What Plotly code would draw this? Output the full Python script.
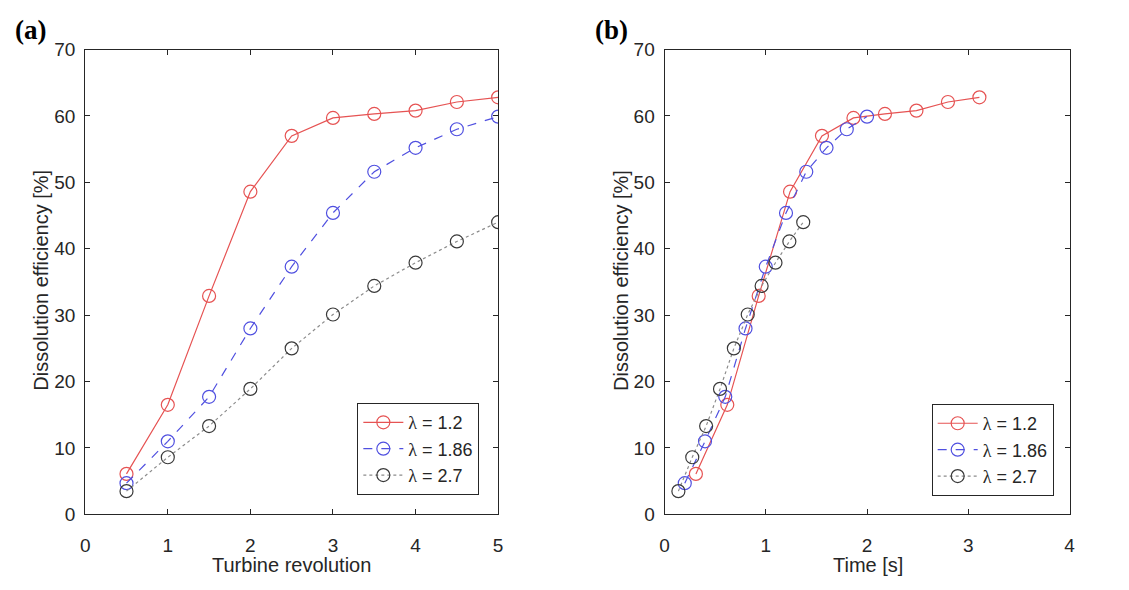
import plotly.graph_objects as go

revolutions = [0.5, 1.0, 1.5, 2.0, 2.5, 3.0, 3.5, 4.0, 4.5, 5.0]
eff_12 = [6.1, 16.5, 32.9, 48.6, 57.0, 59.7, 60.3, 60.8, 62.1, 62.8]
eff_186 = [4.7, 11.0, 17.7, 28.0, 37.3, 45.4, 51.6, 55.2, 58.0, 59.9]
eff_27 = [3.5, 8.6, 13.3, 18.9, 25.0, 30.1, 34.4, 37.9, 41.1, 44.0]

time_12 = [0.31, 0.62, 0.93, 1.24, 1.555, 1.866, 2.177, 2.488, 2.799, 3.11]
time_186 = [0.2, 0.4, 0.6, 0.8, 1.0, 1.2, 1.4, 1.6, 1.8, 2.0]
time_27 = [0.137, 0.274, 0.411, 0.548, 0.685, 0.822, 0.959, 1.096, 1.233, 1.37]

labels = ["<span style='font-family:Liberation Serif'>λ</span> = 1.2",
          "<span style='font-family:Liberation Serif'>λ</span> = 1.86",
          "<span style='font-family:Liberation Serif'>λ</span> = 2.7"]
line_colors = ["#e65353", "#5050e0", "#8c8c8c"]
marker_colors = ["#e65353", "#5050e0", "#3a3a3a"]
dashes = ["solid", "dash", "dot"]

W, H = 1129, 590
fig = go.Figure()

series_a = [eff_12, eff_186, eff_27]
series_b_x = [time_12, time_186, time_27]

for i in range(3):
    fig.add_trace(go.Scatter(
        x=revolutions, y=series_a[i], mode="lines+markers", name=labels[i],
        line=dict(color=line_colors[i], width=1.2, dash=dashes[i]),
        marker=dict(symbol="circle-open", size=13, color=marker_colors[i], line=dict(width=1.2)),
        xaxis="x", yaxis="y", legend="legend"))
for i in range(3):
    fig.add_trace(go.Scatter(
        x=series_b_x[i], y=series_a[i], mode="lines+markers", name=labels[i],
        line=dict(color=line_colors[i], width=1.2, dash=dashes[i]),
        marker=dict(symbol="circle-open", size=13, color=marker_colors[i], line=dict(width=1.2)),
        xaxis="x2", yaxis="y2", legend="legend2"))

axcol = "#262626"
tickfont = dict(family="Liberation Sans, Arial", size=19, color=axcol)
common = dict(showgrid=False, zeroline=False, showline=True, linecolor=axcol, linewidth=1,
              mirror="ticks", ticks="inside", ticklen=5, tickcolor=axcol, tickfont=tickfont)
xcommon = dict(common, ticklabelstandoff=14)
ycommon = dict(common, ticklabelstandoff=5)

ytop = 1 - 41 / H
ybot = 1 - 523 / H

legfont = dict(family="Liberation Sans, Arial", size=18, color=axcol)
fig.update_layout(
    width=W, height=H,
    margin=dict(l=0, r=0, t=0, b=0),
    plot_bgcolor="white", paper_bgcolor="white",
    xaxis=dict(domain=[81 / W, 498 / W], range=[0, 5], dtick=1, anchor="y", **xcommon),
    yaxis=dict(domain=[ybot, ytop], range=[0, 70], dtick=10, anchor="x", **ycommon),
    xaxis2=dict(domain=[666 / W, 1075 / W], range=[0, 4], dtick=1, anchor="y2", **xcommon),
    yaxis2=dict(domain=[ybot, ytop], range=[0, 70], dtick=10, anchor="x2", **ycommon),
    legend=dict(x=479 / W, y=1 - 503 / H, xanchor="right", yanchor="bottom",
                bordercolor=axcol, borderwidth=1, bgcolor="white",
                font=legfont, tracegroupgap=0, itemwidth=40),
    legend2=dict(x=1059 / W, y=1 - 504 / H, xanchor="right", yanchor="bottom",
                 bordercolor=axcol, borderwidth=1, bgcolor="white",
                 font=legfont, tracegroupgap=0, itemwidth=40),
    showlegend=True,
)

ann_font = dict(family="Liberation Sans, Arial", size=20, color=axcol)
lab_font = dict(family="Liberation Serif, Times New Roman", size=27, color="black")
annotations = [
    dict(text="<b>(a)</b>", x=26 / W, y=1 - 21 / H, xref="paper", yref="paper", showarrow=False,
         font=lab_font, xanchor="center", yanchor="middle"),
    dict(text="<b>(b)</b>", x=612 / W, y=1 - 21 / H, xref="paper", yref="paper", showarrow=False,
         font=lab_font, xanchor="center", yanchor="middle"),
    dict(text="Turbine revolution", x=289 / W, y=1 - 575 / H, xref="paper", yref="paper",
         showarrow=False, font=ann_font, xanchor="center", yanchor="middle"),
    dict(text="Time [s]", x=871 / W, y=1 - 575 / H, xref="paper", yref="paper",
         showarrow=False, font=ann_font, xanchor="center", yanchor="middle"),
    dict(text="Dissolution efficiency [%]", x=36 / W, y=1 - 280 / H, xref="paper", yref="paper",
         showarrow=False, font=ann_font, textangle=-90, xanchor="center", yanchor="middle"),
    dict(text="Dissolution efficiency [%]", x=622 / W, y=1 - 280 / H, xref="paper", yref="paper",
         showarrow=False, font=ann_font, textangle=-90, xanchor="center", yanchor="middle"),
]
fig.update_layout(annotations=annotations)

fig.write_html("out.html")
